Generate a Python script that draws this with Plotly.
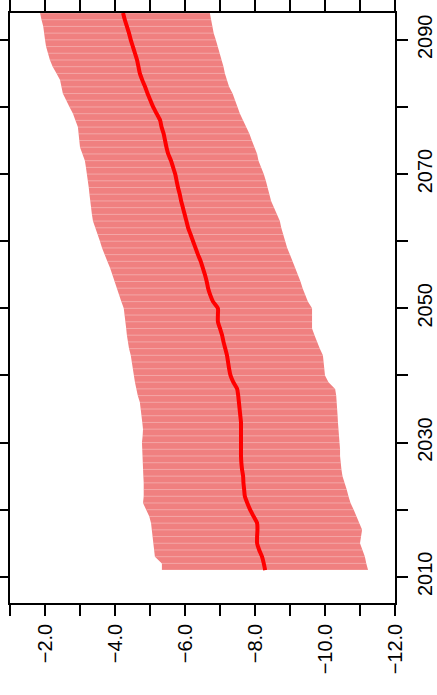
import plotly.graph_objects as go

years = list(range(2011, 2095))

upper = [-5.34, -5.34, -5.14, -5.12, -5.10, -5.09, -5.07, -5.03, -4.98, -4.90,
         -4.80, -4.82, -4.83, -4.82, -4.81, -4.80, -4.80, -4.78, -4.77, -4.77,
         -4.79, -4.80, -4.78, -4.75, -4.73, -4.71, -4.65, -4.60, -4.57, -4.54,
         -4.51, -4.49, -4.45, -4.40, -4.36, -4.34, -4.32, -4.30, -4.29, -4.25,
         -4.18, -4.12, -4.06, -4.00, -3.93, -3.86, -3.78, -3.70, -3.63, -3.57,
         -3.50, -3.43, -3.37, -3.34, -3.31, -3.29, -3.27, -3.25, -3.23, -3.20,
         -3.17, -3.14, -3.06, -3.00, -2.98, -2.96, -2.94, -2.87, -2.80, -2.70,
         -2.60, -2.51, -2.47, -2.43, -2.33, -2.22, -2.14, -2.08, -2.03, -2.00,
         -1.98, -1.95, -1.90, -1.86]

lower = [-11.23, -11.18, -11.14, -11.07, -11.00, -11.03, -11.06, -11.00, -10.90, -10.82,
         -10.73, -10.67, -10.62, -10.57, -10.50, -10.47, -10.44, -10.43, -10.43, -10.43,
         -10.41, -10.39, -10.37, -10.36, -10.35, -10.34, -10.32, -10.29, -10.10, -10.00,
         -9.98, -9.96, -9.94, -9.85, -9.77, -9.70, -9.63, -9.63, -9.63, -9.63,
         -9.51, -9.43, -9.36, -9.30, -9.23, -9.15, -9.08, -9.00, -8.92, -8.86,
         -8.80, -8.75, -8.71, -8.62, -8.54, -8.46, -8.41, -8.37, -8.31, -8.25,
         -8.18, -8.10, -8.06, -7.98, -7.91, -7.84, -7.77, -7.66, -7.57, -7.50,
         -7.44, -7.36, -7.26, -7.20, -7.14, -7.10, -7.06, -7.00, -6.94, -6.88,
         -6.82, -6.77, -6.74, -6.71]

median = [-8.29, -8.25, -8.20, -8.12, -8.06, -8.06, -8.07, -8.06, -7.96, -7.86,
          -7.78, -7.71, -7.69, -7.67, -7.66, -7.63, -7.61, -7.60, -7.60, -7.60,
          -7.60, -7.60, -7.60, -7.58, -7.56, -7.54, -7.52, -7.49, -7.38, -7.30,
          -7.26, -7.23, -7.20, -7.15, -7.10, -7.06, -7.00, -6.94, -6.94, -6.94,
          -6.80, -6.72, -6.66, -6.62, -6.57, -6.51, -6.45, -6.37, -6.30, -6.23,
          -6.16, -6.09, -6.04, -5.99, -5.94, -5.89, -5.85, -5.80, -5.76, -5.72,
          -5.66, -5.60, -5.52, -5.47, -5.43, -5.39, -5.33, -5.29, -5.19, -5.09,
          -5.01, -4.93, -4.86, -4.78, -4.71, -4.67, -4.63, -4.57, -4.51, -4.45,
          -4.40, -4.34, -4.28, -4.23]

value_ticks = [-2, -4, -6, -8, -10, -12]
year_ticks = [2010, 2030, 2050, 2070, 2090]

fig = go.Figure()

# band polygon
fig.add_trace(go.Scatter(
    x=upper + lower[::-1], y=years + years[::-1],
    fill="toself", fillcolor="#F08080", mode="lines",
    line=dict(width=0, color="#F08080"), hoverinfo="skip", showlegend=False))

# yearly seams across band
sx, sy = [], []
for yr, lo, up in zip(years, lower, upper):
    sx += [up, lo, None]
    sy += [yr, yr, None]
fig.add_trace(go.Scatter(
    x=sx, y=sy, mode="lines",
    line=dict(width=1, color="rgba(255,255,255,0.3)"),
    hoverinfo="skip", showlegend=False))

# median line
fig.add_trace(go.Scatter(
    x=median, y=years, mode="lines",
    line=dict(width=4, color="#FF0000", shape="spline", smoothing=0.6),
    showlegend=False))

font = dict(family="Liberation Sans, Arial, sans-serif", size=20, color="#000000")

fig.update_layout(
    width=437, height=695,
    margin=dict(l=10, r=42, t=13, b=92),
    paper_bgcolor="white", plot_bgcolor="white",
    font=font,
    xaxis=dict(
        range=[-1, -12], tickvals=value_ticks, tickformat=".1f",
        tickangle=-90, ticks="outside", ticklen=11, tickwidth=1.6, tickcolor="#000",
        minor=dict(dtick=1, tick0=0, ticks="outside", ticklen=11, tickwidth=1.6, tickcolor="#000"),
        showline=True, linecolor="#000", linewidth=1.5, mirror="ticks",
        showgrid=False, zeroline=False, tickfont=font, automargin=False,
    ),
    yaxis=dict(
        range=[2006.1, 2094.0], side="right", tickvals=year_ticks,
        tickangle=-90, ticks="outside", ticklen=11, tickwidth=1.6, tickcolor="#000",
        minor=dict(dtick=10, tick0=2000, ticks="outside", ticklen=11, tickwidth=1.6, tickcolor="#000"),
        showline=True, linecolor="#000", linewidth=1.5, mirror="ticks",
        showgrid=False, zeroline=False, tickfont=font, automargin=False,
    ),
)

fig.write_html("out.html", config={"displayModeBar": False},
               post_script="document.body.style.margin='0';document.body.style.overflow='hidden';")
